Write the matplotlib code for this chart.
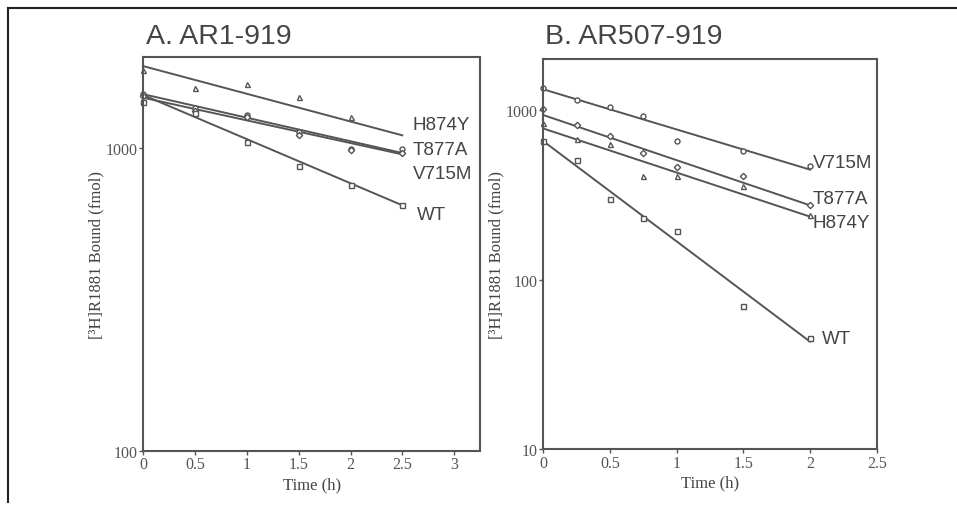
import matplotlib
matplotlib.use("Agg")
import matplotlib.pyplot as plt
from matplotlib.lines import Line2D
from matplotlib.ticker import FixedLocator, NullLocator, FuncFormatter

# ---------------- data ----------------
series_names = ["H874Y", "T877A", "V715M", "WT"]

# Panel A: AR1-919
time_a = [0, 0.5, 1, 1.5, 2, 2.5]
a_h874y = [1811, 1578, 1636, 1482, 1272]
a_t877a = [1508, 1362, 1285, 1132, 992, 998]
a_v715m = [1488, 1328, 1270, 1106, 985, 963]
a_wt = [1427, 1311, 1049, 874, 759, 648]
# fitted lines (value at t=0 and t=2.5)
a_fit_t = [0, 2.5]
a_fit_h874y = [1870, 1104]
a_fit_t877a = [1510, 965]
a_fit_v715m = [1470, 955]
a_fit_wt = [1500, 648]

# Panel B: AR507-919
time_b = [0, 0.25, 0.5, 0.75, 1, 1.5, 2]
b_v715m = [1356, 1146, 1046, 921, 655, 572, 470]
b_t877a = [1008, 811, 701, 559, 460, 410, 274]
b_h874y = [841, 676, 626, 407, 407, 358, 239]
b_wt = [655, 510, 300, 230, 192, 70, 45]
b_fit_t = [0, 2]
b_fit_v715m = [1325, 445]
b_fit_t877a = [934, 274]
b_fit_h874y = [778, 235]
b_fit_wt = [655, 43]

xticks_a = [0, 0.5, 1, 1.5, 2, 2.5, 3]
xticks_b = [0, 0.5, 1, 1.5, 2, 2.5]
yticks_a = [100, 1000]
yticks_b = [10, 100, 1000]

# ---------------- style ----------------
GRAY = "#555555"
TXT = "#444444"
SERIF = ["Liberation Serif", "DejaVu Serif"]
SANS = ["Liberation Sans", "DejaVu Sans"]

fig = plt.figure(figsize=(9.57, 5.06), dpi=100)
W, H = 957, 506

def px_axes(l, t, r, b):
    return fig.add_axes([l / W, 1 - b / H, (r - l) / W, (b - t) / H])

axA = px_axes(143.3, 58.3, 480, 451.7)
axB = px_axes(543.3, 60, 876.7, 450)

def fmt(v, pos):
    return "%d" % round(v)

def style(ax, xlim, ylim, xt, yt):
    ax.set_yscale("log")
    ax.set_xlim(*xlim)
    ax.set_ylim(*ylim)
    ax.xaxis.set_major_locator(FixedLocator(xt))
    ax.yaxis.set_major_locator(FixedLocator(yt))
    ax.yaxis.set_minor_locator(NullLocator())
    ax.xaxis.set_minor_locator(NullLocator())
    ax.yaxis.set_major_formatter(FuncFormatter(fmt))
    ax.xaxis.set_major_formatter(FuncFormatter(lambda v, p: ("%g" % v)))
    for s in ax.spines.values():
        s.set_color(GRAY)
        s.set_linewidth(1.5)
    ax.tick_params(direction="out", length=3, width=1, color=GRAY,
                   labelcolor="#555555", labelsize=11.5, pad=1)
    for lab in ax.get_xticklabels() + ax.get_yticklabels():
        lab.set_family(SERIF)
    ax.set_xlabel("Time (h)", family=SERIF, fontsize=12, color="#444444", labelpad=3)
    ax.set_ylabel("[³H]R1881 Bound (fmol)", family=SERIF, fontsize=12,
                  color="#444444", labelpad=1)

mk = dict(linestyle="none", color=GRAY, markersize=3.6, mew=1, mfc="white",
          clip_on=False)
ln = dict(color=GRAY, lw=1.4)

# Panel A
axA.plot(a_fit_t, a_fit_h874y, **ln)
axA.plot(a_fit_t, a_fit_t877a, **ln)
axA.plot(a_fit_t, a_fit_v715m, **ln)
axA.plot(a_fit_t, a_fit_wt, **ln)
axA.plot(time_a[:len(a_h874y)], a_h874y, marker="^", **mk)
axA.plot(time_a, a_t877a, marker="o", **mk)
axA.plot(time_a, a_v715m, marker="D", **dict(mk, markersize=3.2))
axA.plot(time_a, a_wt, marker="s", **mk)
style(axA, (0, 3.25), (100, 2000), xticks_a, yticks_a)

# Panel B
axB.plot(b_fit_t, b_fit_v715m, **ln)
axB.plot(b_fit_t, b_fit_t877a, **ln)
axB.plot(b_fit_t, b_fit_h874y, **ln)
axB.plot(b_fit_t, b_fit_wt, **ln)
axB.plot(time_b, b_v715m, marker="o", **mk)
axB.plot(time_b, b_t877a, marker="D", **dict(mk, markersize=3.2))
axB.plot(time_b, b_h874y, marker="^", **mk)
axB.plot(time_b, b_wt, marker="s", **mk)
style(axB, (0, 2.5), (10, 2000), xticks_b, yticks_b)

# series labels
def flab(xpx, ypx, s):
    fig.text(xpx / W, 1 - ypx / H, s, fontsize=13.5, family=SANS, color=TXT,
             va="center", ha="left")

flab(413, 126, "H874Y")
flab(413, 150.7, "T877A")
flab(413, 174.3, "V715M")
flab(417, 216, "WT")
flab(813, 163.3, "V715M")
flab(813, 199.3, "T877A")
flab(813, 223.3, "H874Y")
flab(821.7, 340, "WT")

# titles
fig.text(146 / W, 1 - 37 / H, "A. AR1-919", fontsize=20.5, family=SANS, color=TXT,
         va="center", ha="left")
fig.text(545 / W, 1 - 37 / H, "B. AR507-919", fontsize=20.5, family=SANS, color=TXT,
         va="center", ha="left")

# outer frame (top and left)
fig.add_artist(Line2D([8.3 / W, 1], [1 - 9.3 / H, 1 - 9.3 / H],
                      transform=fig.transFigure, color="#222222", lw=1.5))
fig.add_artist(Line2D([8.3 / W, 8.3 / W], [1 - 9.3 / H, 1 - 503 / H],
                      transform=fig.transFigure, color="#222222", lw=1.5))

fig.savefig("out.png", dpi=100)
